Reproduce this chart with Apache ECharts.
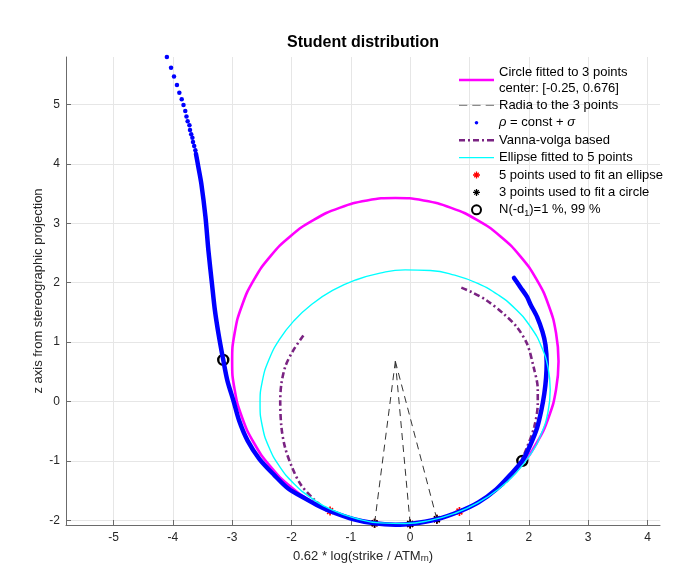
<!DOCTYPE html>
<html>
<head>
<meta charset="utf-8">
<title>Student distribution</title>
<script src="https://cdn.jsdelivr.net/npm/echarts@6/dist/echarts.min.js"></script>
<style>
    html, body { margin: 0; padding: 0; background: #fff; }
    #echart { width: 677px; height: 579px; }
</style>
</head>
<body>
<div id="echart"></div>
<script>
// axis extents (axis equal)
var xRange = [-5.8, 4.21];
var yRange = [-2.08, 5.8];

// circle fitted to 3 points
var circleCenter = [-0.25, 0.676];
var circlePoints = [
    [2.500, 0.676], [2.458, 1.153], [2.334, 1.617], [2.132, 2.051], [1.857, 2.444],
    [1.518, 2.783], [1.125, 3.058], [0.691, 3.260], [0.227, 3.384], [-0.250, 3.426],
    [-0.727, 3.384], [-1.191, 3.260], [-1.625, 3.058], [-2.018, 2.783], [-2.357, 2.444],
    [-2.632, 2.051], [-2.834, 1.617], [-2.958, 1.153], [-3.000, 0.676], [-2.958, 0.199],
    [-2.834, -0.265], [-2.632, -0.699], [-2.357, -1.092], [-2.018, -1.431], [-1.625, -1.706],
    [-1.191, -1.908], [-0.727, -2.032], [-0.250, -2.074], [0.227, -2.032], [0.691, -1.908],
    [1.125, -1.706], [1.518, -1.431], [1.857, -1.092], [2.132, -0.699], [2.334, -0.265],
    [2.458, 0.199], [2.500, 0.676]
];
var threePoints = [[-0.60, -2.052], [0.00, -2.063], [0.45, -1.983]];
var fivePoints = [[-1.35, -1.845], [-0.60, -2.052], [0.00, -2.063], [0.45, -1.983], [0.83, -1.853]];

// rho = const + sigma : separated dots at the top, then a dense run
var rhoSparse = [
    [-4.10, 5.80], [-4.03, 5.62], [-3.98, 5.47], [-3.93, 5.33], [-3.89, 5.20], [-3.85, 5.09],
    [-3.82, 4.99], [-3.79, 4.89], [-3.77, 4.80], [-3.75, 4.72], [-3.72, 4.65], [-3.71, 4.57],
    [-3.69, 4.50], [-3.67, 4.44], [-3.66, 4.37], [-3.64, 4.30], [-3.62, 4.23]
];
var rhoDense = [
    [-3.61, 4.17], [-3.57, 3.95], [-3.52, 3.67], [-3.45, 3.11], [-3.40, 2.54], [-3.34, 1.98],
    [-3.29, 1.53], [-3.23, 1.14], [-3.15, 0.70], [-3.08, 0.35], [-2.98, 0.02], [-2.88, -0.33],
    [-2.74, -0.66], [-2.54, -0.97], [-2.29, -1.24], [-2.05, -1.47], [-1.76, -1.64], [-1.54, -1.76],
    [-1.35, -1.845], [-0.95, -1.983], [-0.60, -2.052], [-0.25, -2.074], [0.00, -2.063], [0.45, -1.983],
    [0.83, -1.853], [1.15, -1.70], [1.45, -1.48], [1.70, -1.22], [1.89, -1.00], [2.03, -0.72],
    [2.14, -0.44], [2.21, -0.15], [2.26, 0.13], [2.29, 0.40], [2.30, 0.65], [2.28, 0.95],
    [2.23, 1.17], [2.14, 1.42], [2.03, 1.63], [1.97, 1.76], [1.86, 1.92], [1.75, 2.08]
];

// Vanna-volga based
var vannaVolga = [
    [-1.80, 1.11], [-1.97, 0.86], [-2.10, 0.60], [-2.17, 0.30], [-2.19, 0.00], [-2.17, -0.43],
    [-2.11, -0.77], [-1.99, -1.11], [-1.85, -1.39], [-1.63, -1.64], [-1.38, -1.83], [-0.95, -1.983],
    [-0.60, -2.052], [-0.25, -2.074], [0.00, -2.063], [0.45, -1.983], [0.83, -1.853], [1.15, -1.70],
    [1.45, -1.49], [1.63, -1.34], [1.82, -1.10], [1.97, -0.77], [2.09, -0.43], [2.15, -0.04],
    [2.15, 0.21], [2.08, 0.58], [1.97, 0.97], [1.80, 1.25], [1.57, 1.48], [1.29, 1.70],
    [1.04, 1.84], [0.83, 1.93]
];

// ellipse fitted to 5 points
var ellipsePoints = [
    [2.360, 0.200], [2.323, 0.569], [2.213, 0.923], [2.032, 1.252], [1.788, 1.544], [1.487, 1.792],
    [1.138, 1.989], [0.751, 2.127], [0.339, 2.204], [-0.085, 2.215], [-0.509, 2.162], [-0.921, 2.045],
    [-1.308, 1.869], [-1.657, 1.638], [-1.958, 1.360], [-2.202, 1.044], [-2.383, 0.697], [-2.493, 0.333],
    [-2.530, -0.040], [-2.493, -0.409], [-2.383, -0.763], [-2.202, -1.092], [-1.958, -1.384], [-1.657, -1.632],
    [-1.308, -1.829], [-0.921, -1.967], [-0.509, -2.044], [-0.085, -2.055], [0.339, -2.002], [0.751, -1.885],
    [1.138, -1.709], [1.487, -1.478], [1.788, -1.200], [2.032, -0.884], [2.213, -0.537], [2.323, -0.173],
    [2.360, 0.200]
];

// N(-d1) = 1 %, 99 %
var ndPoints = [[-3.15, 0.70], [1.89, -1.00]];

var FONT = '"Liberation Sans", Arial, Helvetica, sans-serif';
var circleName = 'Circle fitted to 3 points';
var radiaName = 'Radia to the 3 points';
var rhoName = 'ρ = const + σ';
var vvName = 'Vanna-volga based';
var ellName = 'Ellipse fitted to 5 points';
var fiveName = '5 points used to fit an ellipse';
var threeName = '3 points used to fit a circle';
var ndName = 'N(-d1)=1 %, 99 %';

// asterisk marker (MATLAB '*'); the legend copy has a padded bounding box
var STAR = 'path://M-3.5,-0.65 L3.5,-0.65 L3.5,0.65 L-3.5,0.65 Z M-0.65,-3.5 L0.65,-3.5 L0.65,3.5 L-0.65,3.5 Z ' +
    'M-1.82,-2.7 L2.7,1.82 L1.82,2.7 L-2.7,-1.82 Z M-2.7,1.82 L1.82,-2.7 L2.7,-1.82 L-1.82,2.7 Z';
var STAR_ICON = 'path://M-4.5,-4.5 M4.5,4.5 ' + STAR.slice(7);
var DOT_ICON = 'path://M-4.5,-4.5 M4.5,4.5 M1.8,0 L1.27,1.27 L0,1.8 L-1.27,1.27 L-1.8,0 L-1.27,-1.27 L0,-1.8 L1.27,-1.27 Z';
// legend line samples (solid, dashed, dash-dot)
var SOLID_THICK = 'path://M0,0 L35,0 L35,2.6 L0,2.6 Z';
var SOLID_THIN = 'path://M0,0 L35,0 L35,1.4 L0,1.4 Z';
var DASHED = 'path://M0,0 L8.3,0 L8.3,1.2 L0,1.2 Z M13.3,0 L21.6,0 L21.6,1.2 L13.3,1.2 Z M26.7,0 L35,0 L35,1.2 L26.7,1.2 Z';
var DASHDOT = 'path://M0,0 L6,0 L6,2.6 L0,2.6 Z M9,0 L11,0 L11,2.6 L9,2.6 Z M14,0 L20,0 L20,2.6 L14,2.6 Z ' +
    'M23,0 L25,0 L25,2.6 L23,2.6 Z M28,0 L35,0 L35,2.6 L28,2.6 Z';

var radiaSeries = threePoints.map(function (p) {
    return {
        name: radiaName,
        type: 'line',
        data: [circleCenter, p],
        symbol: 'none',
        lineStyle: {color: '#333333', width: 1, type: [7, 5]},
        itemStyle: {color: '#333333'}
    };
});

var option = {
    animation: false,
    backgroundColor: '#fff',
    textStyle: {fontFamily: FONT},
    title: {
        text: 'Student distribution',
        left: 363,
        textAlign: 'center',
        top: 35,
        padding: 0,
        textStyle: {fontFamily: FONT, fontSize: 16, fontWeight: 'bold', color: '#000'}
    },
    grid: {left: 66, right: 17, top: 57, bottom: 54},
    legend: {
        orient: 'vertical',
        left: 459,
        top: 64,
        padding: 0,
        itemWidth: 35,
        itemHeight: 9,
        itemGap: 1.4,
        textStyle: {
            fontFamily: FONT, fontSize: 13, lineHeight: 16, color: '#000',
            rich: {
                it: {fontFamily: FONT, fontSize: 13, lineHeight: 16, fontStyle: 'italic', color: '#000'},
                sub: {fontFamily: FONT, fontSize: 9, lineHeight: 9, verticalAlign: 'bottom', color: '#000'}
            }
        },
        data: [
            {name: circleName, icon: SOLID_THICK, itemStyle: {borderWidth: 0}},
            {name: radiaName, icon: DASHED, itemStyle: {color: '#8c8c8c', borderWidth: 0}},
            {name: rhoName, icon: DOT_ICON},
            {name: vvName, icon: DASHDOT, itemStyle: {borderWidth: 0}},
            {name: ellName, icon: SOLID_THIN, itemStyle: {borderWidth: 0}},
            {name: fiveName, icon: STAR_ICON},
            {name: threeName, icon: STAR_ICON},
            {name: ndName, icon: 'circle', itemStyle: {color: 'rgba(0,0,0,0)', borderColor: '#000', borderWidth: 2}}
        ],
        formatter: function (name) {
            if (name === circleName) {
                return name + '\ncenter: [' + circleCenter[0] + ', ' + circleCenter[1] + ']';
            }
            if (name === rhoName) return '{it|ρ} = const + {it|σ}';
            if (name === ndName) return 'N(-d{sub|1})=1 %, 99 %';
            return name;
        }
    },
    xAxis: {
        type: 'value',
        min: xRange[0],
        max: xRange[1],
        splitNumber: 10,
        minInterval: 1,
        maxInterval: 1,
        name: '0.62 * log(strike / ATM{sub|rn})',
        nameLocation: 'middle',
        nameGap: 25,
        nameTextStyle: {
            fontFamily: FONT, fontSize: 13, color: '#262626',
            rich: {sub: {fontFamily: FONT, fontSize: 9, verticalAlign: 'bottom', lineHeight: 9, color: '#262626'}}
        },
        axisLine: {show: true, onZero: false, lineStyle: {color: '#6b6b6b', width: 1}},
        axisTick: {show: true, inside: true, length: 5, lineStyle: {color: '#6b6b6b'}},
        axisLabel: {
            margin: 7, fontFamily: FONT, fontSize: 12, color: '#262626',
            showMinLabel: false, showMaxLabel: false
        },
        splitLine: {show: true, showMinLine: false, showMaxLine: false, lineStyle: {color: '#e6e6e6', width: 1}}
    },
    yAxis: {
        type: 'value',
        min: yRange[0],
        max: yRange[1],
        splitNumber: 8,
        minInterval: 1,
        maxInterval: 1,
        name: 'z axis from stereographic projection',
        nameLocation: 'middle',
        nameGap: 21,
        nameMoveOverlap: false,
        nameTextStyle: {fontFamily: FONT, fontSize: 13, color: '#262626'},
        axisLine: {show: true, onZero: false, lineStyle: {color: '#6b6b6b', width: 1}},
        axisTick: {show: true, inside: true, length: 5, lineStyle: {color: '#6b6b6b'}},
        axisLabel: {
            margin: 6, fontFamily: FONT, fontSize: 12, color: '#262626',
            showMinLabel: false, showMaxLabel: false
        },
        splitLine: {show: true, showMinLine: false, showMaxLine: false, lineStyle: {color: '#e6e6e6', width: 1}}
    },
    series: [
        {
            name: circleName,
            type: 'line',
            data: circlePoints,
            symbol: 'none',
            smooth: 0.5,
            lineStyle: {color: '#ff00ff', width: 2.6},
            itemStyle: {color: '#ff00ff'}
        }
    ].concat(radiaSeries).concat([
        {
            name: vvName,
            type: 'line',
            data: vannaVolga,
            symbol: 'none',
            smooth: 0.3,
            lineStyle: {color: '#7a2382', width: 2.6, type: [6, 3, 2, 3]},
            itemStyle: {color: '#7a2382'}
        },
        {
            name: 'rho dense',
            type: 'line',
            data: rhoDense,
            symbol: 'none',
            smooth: 0.3,
            lineStyle: {color: '#0000ff', width: 4.5, cap: 'round', join: 'round'},
            itemStyle: {color: '#0000ff'}
        },
        {
            name: rhoName,
            type: 'scatter',
            data: rhoSparse,
            symbol: 'circle',
            symbolSize: 4.5,
            itemStyle: {color: '#0000ff', opacity: 1}
        },
        {
            name: ellName,
            type: 'line',
            data: ellipsePoints,
            symbol: 'none',
            smooth: 0.5,
            lineStyle: {color: '#00ffff', width: 1.4},
            itemStyle: {color: '#00ffff'}
        },
        {
            name: fiveName,
            type: 'scatter',
            data: fivePoints,
            symbol: STAR,
            symbolSize: 9,
            itemStyle: {color: '#ff0000', opacity: 1}
        },
        {
            name: threeName,
            type: 'scatter',
            data: threePoints,
            symbol: STAR,
            symbolSize: 9,
            itemStyle: {color: '#000000', opacity: 1}
        },
        {
            name: ndName,
            type: 'scatter',
            data: ndPoints,
            symbol: 'circle',
            symbolSize: 10,
            itemStyle: {color: 'rgba(0,0,0,0)', borderColor: '#000', borderWidth: 2.4, opacity: 1}
        }
    ])
};

var myChart = echarts.init(document.getElementById('echart'));
myChart.setOption(option);
</script>
</body>
</html>
